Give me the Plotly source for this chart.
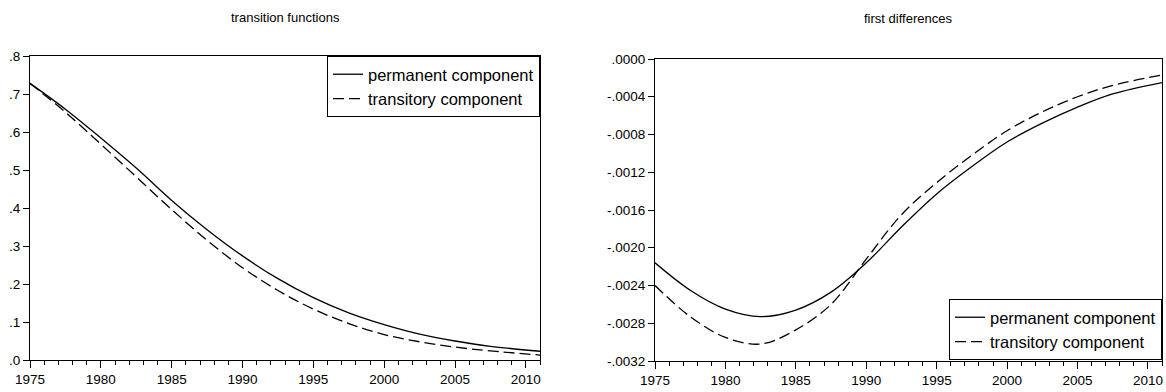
import plotly.graph_objects as go

years = [1975, 1977.5, 1980, 1982.5, 1985, 1987.5, 1990, 1992.5, 1995, 1997.5, 2000, 2002.5, 2005, 2007.5, 2011]

# transition functions
trans_perm = [0.728, 0.66, 0.584, 0.505, 0.42, 0.343, 0.274, 0.214, 0.164, 0.124, 0.093, 0.068, 0.05, 0.036, 0.023]
trans_tran = [0.728, 0.652, 0.568, 0.482, 0.396, 0.315, 0.243, 0.183, 0.134, 0.096, 0.067, 0.048, 0.034, 0.024, 0.013]

# first differences
diff_perm = [-0.00216, -0.00245, -0.00265, -0.00273, -0.00266, -0.00247, -0.00216, -0.00178, -0.00143, -0.00114,
             -0.00088, -0.00068, -0.00051, -0.00037, -0.00025]
diff_tran = [-0.0024, -0.00273, -0.00295, -0.00302, -0.00287, -0.0026, -0.00212, -0.00165, -0.00131, -0.00102,
             -0.00076, -0.00056, -0.0004, -0.00028, -0.00017]

left_ticks = [0, 0.1, 0.2, 0.3, 0.4, 0.5, 0.6, 0.7, 0.8]
left_labels = [".0", ".1", ".2", ".3", ".4", ".5", ".6", ".7", ".8"]
right_ticks = [0, -0.0004, -0.0008, -0.0012, -0.0016, -0.0020, -0.0024, -0.0028, -0.0032]
right_labels = [".0000", "-.0004", "-.0008", "-.0012", "-.0016", "-.0020", "-.0024", "-.0028", "-.0032"]

W, H = 1166, 392
font = "Liberation Sans, Arial, sans-serif"

fig = go.Figure()
solid = dict(color="black", width=1.3, shape="spline")
dashed = dict(color="black", width=1.3, dash="11px,5px", shape="spline")

fig.add_trace(go.Scatter(x=years, y=trans_perm, mode="lines", line=solid, name="permanent component",
                         xaxis="x", yaxis="y", legend="legend"))
fig.add_trace(go.Scatter(x=years, y=trans_tran, mode="lines", line=dashed, name="transitory component",
                         xaxis="x", yaxis="y", legend="legend"))
fig.add_trace(go.Scatter(x=years, y=diff_perm, mode="lines", line=solid, name="permanent component",
                         xaxis="x2", yaxis="y2", legend="legend2"))
fig.add_trace(go.Scatter(x=years, y=diff_tran, mode="lines", line=dashed, name="transitory component",
                         xaxis="x2", yaxis="y2", legend="legend2"))


def px_x(x):
    return x / W


def px_y(y):
    return 1 - y / H


def xax(x0, x1, anchor):
    return dict(domain=[px_x(x0), px_x(x1)], anchor=anchor, range=[1975, 2011], tick0=1975, dtick=5,
                ticks="outside", ticklen=7, tickcolor="black", showline=True, linecolor="black",
                linewidth=1, mirror=True, showgrid=False, zeroline=False, automargin=False,
                minor=dict(dtick=1, tick0=1975, ticks="outside", ticklen=4, tickcolor="black", showgrid=False),
                tickfont=dict(size=13.5, color="black"))


def yax(y0, y1, anchor, rng, vals, labels):
    return dict(domain=[px_y(y1), px_y(y0)], anchor=anchor, range=rng, tickvals=vals, ticktext=labels,
                ticks="outside", ticklen=6, tickcolor="black", showline=True, linecolor="black",
                linewidth=1, mirror=True, showgrid=False, zeroline=False, automargin=False,
                tickfont=dict(size=13.5, color="black"))


legend_style = dict(bgcolor="white", bordercolor="black", borderwidth=1,
                    font=dict(size=16.5, color="black", family=font), tracegroupgap=0)

fig.update_layout(
    template="none",
    width=W, height=H,
    margin=dict(l=0, r=0, t=0, b=0, autoexpand=False),
    plot_bgcolor="white", paper_bgcolor="white",
    font=dict(family=font, color="black"),
    xaxis=xax(30, 540, "y"),
    yaxis=yax(56, 360, "x", [0, 0.8], left_ticks, left_labels),
    xaxis2=xax(655, 1162, "y2"),
    yaxis2=yax(59, 361, "x2", [-0.0032, 0], right_ticks, right_labels),
    legend=dict(x=px_x(540), y=px_y(56), xanchor="right", yanchor="top", **legend_style),
    legend2=dict(x=px_x(1162), y=px_y(360), xanchor="right", yanchor="bottom", **legend_style),
    annotations=[
        dict(text="transition functions", x=px_x(285), y=px_y(17), xref="paper", yref="paper",
             xanchor="center", yanchor="middle", showarrow=False, font=dict(size=13, color="black")),
        dict(text="first differences", x=px_x(908), y=px_y(18), xref="paper", yref="paper",
             xanchor="center", yanchor="middle", showarrow=False, font=dict(size=13, color="black")),
    ],
)

# drop the default page margin so the figure sits at the window's corner
fig.write_html("out.html", config={"displayModeBar": False},
               post_script="document.body.style.margin='0px';")
